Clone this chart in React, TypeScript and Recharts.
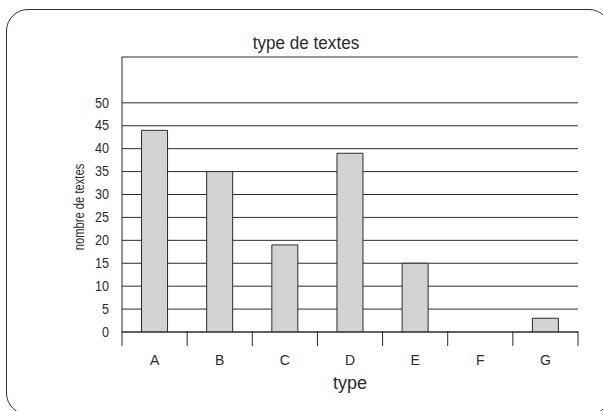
import React from "react";
import { BarChart, Bar, XAxis, YAxis, CartesianGrid } from "recharts";

const categories = ["A", "B", "C", "D", "E", "F", "G"];
const counts = [44, 35, 19, 39, 15, 0, 3];
const yTicks = [0, 5, 10, 15, 20, 25, 30, 35, 40, 45, 50];

const data = categories.map((c, i) => ({ type: c, n: counts[i] }));

const FONT = "'Liberation Sans', Arial, sans-serif";
const INK = "#2b2b2b";

const CatTick = (props: any) => {
  const { x, y, payload, index } = props;
  const off = payload && payload.offset ? payload.offset : 65.14 / 2;
  const last = index === categories.length - 1;
  return (
    <g>
      <line x1={x - off} y1={y - 9} x2={x - off} y2={y + 6} stroke={INK} strokeWidth={1} />
      {last && <line x1={x + off} y1={y - 9} x2={x + off} y2={y + 6} stroke={INK} strokeWidth={1} />}
      <text x={x} y={y + 25} textAnchor="middle" fontSize={14} fill={INK} fontFamily={FONT}>
        {payload.value}
      </text>
    </g>
  );
};

const ValTick = (props: any) => {
  const { x, y, payload } = props;
  return (
    <text
      x={0}
      y={0}
      transform={`translate(${x - 5},${y}) scale(0.9,1)`}
      textAnchor="end"
      dominantBaseline="central"
      fontSize={14}
      fill={INK}
      fontFamily={FONT}
    >
      {payload.value}
    </text>
  );
};

export default function App() {
  return (
    <div style={{ position: "absolute", left: 0, top: 0, width: 603, height: 411, overflow: "hidden", background: "#fff" }}>
      <div
        style={{
          position: "absolute",
          left: 6,
          top: 9,
          width: 605,
          height: 406,
          boxSizing: "border-box",
          border: "1.5px solid #333",
          borderRadius: 22,
        }}
      />
      <div
        style={{
          position: "absolute",
          left: 206,
          width: 200,
          top: 33,
          textAlign: "center",
          fontFamily: FONT,
          fontSize: 18,
          lineHeight: "21px",
          color: INK,
          transform: "scaleX(0.95)",
        }}
      >
        type de textes
      </div>
      <div
        style={{
          position: "absolute",
          left: 250,
          width: 200,
          top: 372,
          textAlign: "center",
          fontFamily: FONT,
          fontSize: 18,
          lineHeight: "22px",
          color: INK,
        }}
      >
        type
      </div>
      <div
        style={{
          position: "absolute",
          left: 79 - 100,
          top: 207 - 10,
          width: 200,
          height: 20,
          lineHeight: "20px",
          textAlign: "center",
          transform: "rotate(-90deg) scaleX(0.8)",
          fontFamily: FONT,
          fontSize: 14,
          color: INK,
        }}
      >
        nombre de textes
      </div>
      <div style={{ position: "absolute", left: 0, top: 0 }}>
        <BarChart
          width={603}
          height={411}
          data={data}
          margin={{ top: 57, right: 25, bottom: 39, left: 70 }}
          barCategoryGap="30%"
        >
          <CartesianGrid vertical={false} stroke={INK} strokeWidth={1} />
          <XAxis
            dataKey="type"
            axisLine={{ stroke: INK }}
            tickLine={false}
            tick={<CatTick />}
            interval={0}
            height={40}
          />
          <YAxis
            yAxisId={0}
            domain={[0, 60]}
            ticks={yTicks}
            allowDataOverflow
            axisLine={{ stroke: INK }}
            tickLine={false}
            width={52}
            tick={<ValTick />}
            interval={0}
          />
          <YAxis
            yAxisId={1}
            orientation="right"
            domain={[0, 60]}
            axisLine={{ stroke: INK }}
            tickLine={false}
            tick={false}
            width={0}
          />
          <Bar dataKey="n" yAxisId={0} fill="#d3d3d3" stroke={INK} strokeWidth={1} isAnimationActive={false} />
        </BarChart>
      </div>
    </div>
  );
}
